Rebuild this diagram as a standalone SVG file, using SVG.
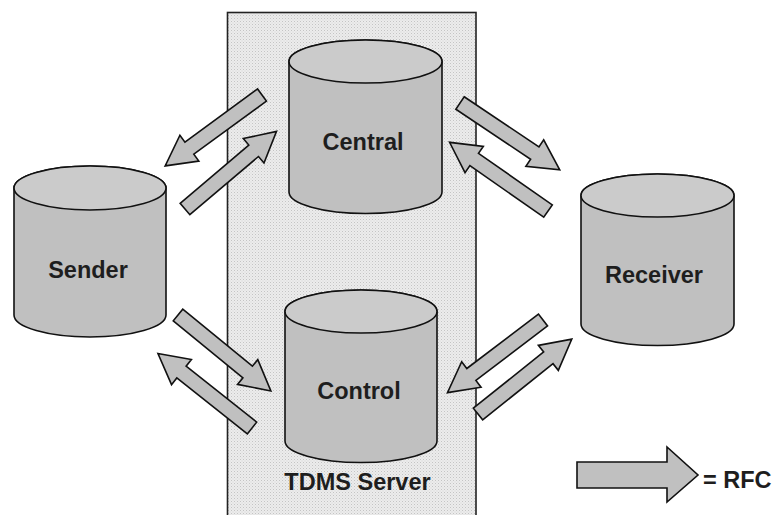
<svg xmlns="http://www.w3.org/2000/svg" xmlns:xlink="http://www.w3.org/1999/xlink" width="776" height="515" viewBox="0 0 776 515">
<style>
.cyl{fill:#c0c0c0;stroke:#111;stroke-width:1.6}
.top{fill:#cbcbcb;stroke:#111;stroke-width:1.6}
.lbl{font-family:"Liberation Sans",Arial,sans-serif;font-weight:bold;font-size:23.5px;fill:#1e1e1e;text-anchor:middle}
.arr{fill:#c0c0c0;stroke:#111;stroke-width:1.6;stroke-linejoin:miter}
</style>
<defs>
<pattern id="dots" width="3" height="3" patternUnits="userSpaceOnUse">
<rect width="3" height="3" fill="#ececec"/>
<rect width="1" height="1" fill="#c4c4c4"/>
<rect x="1.5" y="1.5" width="1" height="1" fill="#d6d6d6"/>
</pattern>
<polygon id="arrow" points="0,-7.5 90,-7.5 90,-16 120,0 90,16 90,7.5 0,7.5"/>
</defs>
<rect width="776" height="515" fill="#ffffff"/>
<g id="tdms-server">
<rect x="227.5" y="12.5" width="248.5" height="510" fill="url(#dots)" stroke="#222" stroke-width="1.6"/>
<text class="lbl" x="357.5" y="490">TDMS Server</text>
</g>
<g id="sender">
<path class="cyl" d="M14,188 A76,22 0 0 1 166,188 V315 A76,22 0 0 1 14,315 Z"/>
<ellipse class="top" cx="90" cy="188" rx="76" ry="22"/>
<text class="lbl" x="88" y="278">Sender</text>
</g>
<g id="central">
<path class="cyl" d="M289,61.5 A76.5,21.5 0 0 1 442,61.5 V192 A76.5,21.5 0 0 1 289,192 Z"/>
<ellipse class="top" cx="365.5" cy="61.5" rx="76.5" ry="21.5"/>
<text class="lbl" x="363" y="150">Central</text>
</g>
<g id="control">
<path class="cyl" d="M285,311.5 A76,21.5 0 0 1 437,311.5 V441 A76,21.5 0 0 1 285,441 Z"/>
<ellipse class="top" cx="361" cy="311.5" rx="76" ry="21.5"/>
<text class="lbl" x="359" y="399">Control</text>
</g>
<g id="receiver">
<path class="cyl" d="M581,195.5 A76.5,21.5 0 0 1 734,195.5 V324 A76.5,21.5 0 0 1 581,324 Z"/>
<ellipse class="top" cx="657.5" cy="195.5" rx="76.5" ry="21.5"/>
<text class="lbl" x="654" y="283">Receiver</text>
</g>
<g id="connectors">
<use xlink:href="#arrow" class="arr" transform="translate(262,95) rotate(143.8)"/>
<use xlink:href="#arrow" class="arr" transform="translate(185,209) rotate(-40.3)"/>
<use xlink:href="#arrow" class="arr" transform="translate(460,103) rotate(33.8)"/>
<use xlink:href="#arrow" class="arr" transform="translate(548,211) rotate(-145.1)"/>
<use xlink:href="#arrow" class="arr" transform="translate(178,315) rotate(39.3)"/>
<use xlink:href="#arrow" class="arr" transform="translate(252,428) rotate(-141.6)"/>
<use xlink:href="#arrow" class="arr" transform="translate(543,320) rotate(142.75)"/>
<use xlink:href="#arrow" class="arr" transform="translate(478,414) rotate(-38.6)"/>
</g>
<g id="legend">
<polygon class="arr" points="577,462 667,462 667,447 698,475 667,502 667,488 577,488"/>
<text class="lbl" x="703" y="488" style="text-anchor:start">= RFC</text>
</g>
</svg>
